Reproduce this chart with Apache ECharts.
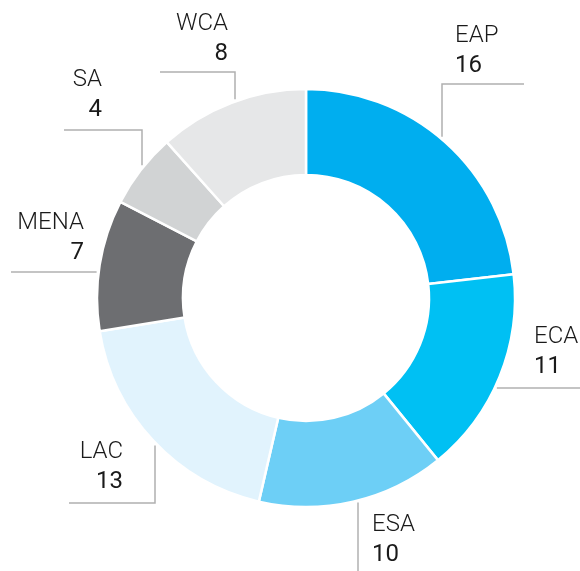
<!DOCTYPE html>
<html>
<head>
<meta charset="utf-8">
<script src="https://cdn.jsdelivr.net/npm/echarts@6/dist/echarts.min.js"></script>
<style>
  html, body {margin: 0; padding: 0; background: #fff;}
  #chart {width: 580px; height: 571px;}
</style>
</head>
<body>
<div id="chart"></div>
<script>
const regions = ['EAP', 'ECA', 'ESA', 'LAC', 'MENA', 'SA', 'WCA']
const counts = [16, 11, 10, 13, 7, 4, 8]
const colors = ['#00aeef', '#00c0f3', '#6dcff6', '#e1f3fd', '#6d6e71', '#d1d3d4', '#e6e7e8']

// ring geometry (px)
const cx = 306, cy = 298, rIn = 123, rOut = 209

// where each label sits and how its leader line runs
// v: line leaves ring vertically at x, elbow at ey, ends at ex
// h: line leaves ring horizontally at y, ends at ex
const labelSpots = [
  {side: 'left', x: 455, y: 51, line: {mode: 'v', x: 442, ey: 84, ex: 524}},
  {side: 'left', x: 534, y: 352, line: {mode: 'h', y: 388, ex: 580}},
  {side: 'left', x: 372, y: 540, line: {mode: 'v', x: 358, ey: 571, ex: 358}},
  {side: 'right', x: 123, y: 467, line: {mode: 'v', x: 155, ey: 503, ex: 69}},
  {side: 'right', x: 84, y: 238, line: {mode: 'h', y: 272, ex: 11}},
  {side: 'right', x: 102, y: 95, line: {mode: 'v', x: 142, ey: 130, ex: 64}},
  {side: 'right', x: 228, y: 39, line: {mode: 'v', x: 235, ey: 72, ex: 160}}
]

const leaderPoints = (spot) => {
  const l = spot.line
  const rr = rOut + 2
  if (l.mode === 'h') {
    const dx = Math.sqrt(rr * rr - (l.y - cy) * (l.y - cy))
    const sx = l.ex > cx ? cx + dx : cx - dx
    return [[sx, l.y], [(sx + l.ex) / 2, l.y], [l.ex, l.y]]
  }
  const dy = Math.sqrt(rr * rr - (l.x - cx) * (l.x - cx))
  const sy = l.ey > cy ? cy + dy : cy - dy
  return [[l.x, sy], [l.x, l.ey], [l.ex, l.ey]]
}

const font = 'Roboto, "Noto Sans", sans-serif'
const textColor = '#1a1a1a'

const chart = echarts.init(document.getElementById('chart'))
chart.setOption({
  animation: false,
  backgroundColor: '#fff',
  series: [{
    type: 'pie',
    center: [cx, cy],
    radius: [rIn, rOut],
    startAngle: 90,
    clockwise: true,
    avoidLabelOverlap: false,
    itemStyle: {borderColor: '#fff', borderWidth: 2.5},
    emphasis: {disabled: true},
    data: regions.map((name, i) => ({
      name,
      value: counts[i],
      itemStyle: {color: colors[i]}
    })),
    label: {
      show: true,
      position: 'outside',
      fontFamily: font,
      formatter: (p) => {
        const s = labelSpots[p.dataIndex].side === 'right' ? 'R' : 'L'
        return `{n${s}|${p.name}}\n{v${s}|${p.value}}`
      },
      rich: {
        nL: {fontSize: 24, fontWeight: 300, color: textColor, lineHeight: 30, align: 'left', fontFamily: font},
        vL: {fontSize: 24, fontWeight: 400, color: textColor, lineHeight: 30, align: 'left', fontFamily: font},
        nR: {fontSize: 24, fontWeight: 300, color: textColor, lineHeight: 30, align: 'right', fontFamily: font},
        vR: {fontSize: 24, fontWeight: 400, color: textColor, lineHeight: 30, align: 'right', fontFamily: font}
      }
    },
    labelLine: {
      show: true,
      smooth: false,
      lineStyle: {color: '#b0b0b0', width: 1.5}
    },
    labelLayout: (params) => {
      const spot = labelSpots[params.dataIndex]
      return {
        x: spot.x,
        y: spot.y,
        align: spot.side,
        verticalAlign: 'middle',
        labelLinePoints: leaderPoints(spot)
      }
    }
  }]
})
</script>
</body>
</html>
